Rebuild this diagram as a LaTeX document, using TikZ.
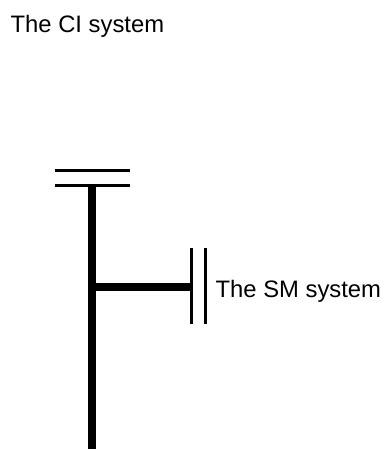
\documentclass[tikz,border=0pt]{standalone}
\usepackage{fontspec}
\setmainfont{Liberation Sans}
\tikzset{
  x=1bp,y=-1bp,
  thin line/.style={line width=3bp,black},
  thick line/.style={line width=8bp,black},
  lbl/.style={anchor=base west,inner sep=0pt,font=\fontsize{23.8bp}{28bp}\selectfont}
}
\begin{document}
\begin{tikzpicture}
\useasboundingbox (0,0) rectangle (383,449);
\node[lbl] (ci) at (10.5,33) {The CI system};
\node[lbl] (sm) at (215.5,297) {The SM system};
\coordinate (t1a) at (54.5,170.5);
\coordinate (t1b) at (130,170.5);
\coordinate (t2a) at (54.5,186);
\coordinate (t2b) at (130,186);
\coordinate (vtop) at (92,186);
\coordinate (vbot) at (92,449);
\coordinate (junction) at (92,286.5);
\coordinate (end) at (191,286.5);
\coordinate (p1a) at (191,248);
\coordinate (p1b) at (191,324);
\coordinate (p2a) at (205.7,248);
\coordinate (p2b) at (205.7,324);
\draw[thin line] (t1a) -- (t1b);
\draw[thin line] (t2a) -- (t2b);
\draw[thick line] (vtop) -- (vbot);
\draw[thick line] (junction) -- (end);
\draw[thin line] (p1a) -- (p1b);
\draw[thin line] (p2a) -- (p2b);
\end{tikzpicture}
\end{document}
